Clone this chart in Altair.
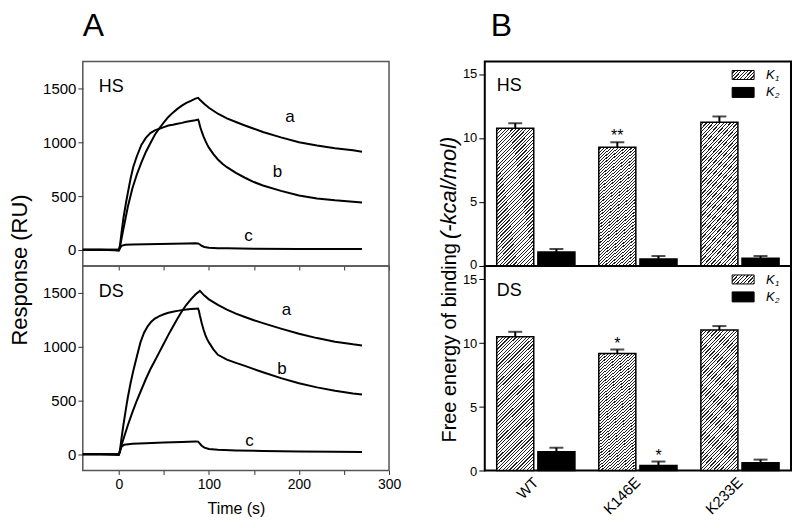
import altair as alt
import pandas as pd

FONT = "Liberation Sans"

# ---------------- Panel A: sensorgrams (time in s, response in RU) ----------------
hs_a_t = [-40, -20, -5, 0, 2, 5, 10, 15, 20, 25, 30, 35, 40, 45, 50, 55, 60, 65, 70, 75, 80, 85, 88,
          90, 95, 100, 110, 120, 130, 140, 150, 160, 180, 200, 220, 240, 260, 270]
hs_a_r = [0, 0, 0, 0, 60, 190, 400, 570, 700, 810, 910, 990, 1070, 1130, 1185, 1235, 1275, 1310, 1340, 1365, 1385, 1405, 1413,
          1395, 1355, 1320, 1265, 1222, 1188, 1155, 1125, 1095, 1045, 1000, 970, 945, 925, 912]

hs_b_t = [-40, -20, -5, 0, 1, 3, 5, 8, 10, 13, 16, 20, 25, 30, 35, 40, 45, 50, 55, 60, 65, 70, 75, 80, 85, 88,
          89, 90, 92, 94, 96, 98, 100, 105, 110, 115, 120, 130, 140, 150, 160, 180, 200, 220, 240, 260, 270]
hs_b_r = [0, 0, 0, 0, 20, 160, 290, 440, 530, 660, 770, 870, 975, 1040, 1085, 1110, 1125, 1140, 1155, 1163, 1172, 1180, 1190, 1198, 1205, 1210,
          1190, 1150, 1100, 1055, 1015, 980, 950, 890, 840, 800, 768, 715, 670, 630, 598, 548, 505, 478, 460, 447, 441]

hs_c_t = [-40, -20, -5, 0, 1, 3, 7, 15, 30, 45, 60, 75, 85, 88, 90, 92, 95, 100, 110, 120, 150, 200, 250, 270]
hs_c_r = [0, 0, -3, -8, 10, 38, 48, 50, 53, 55, 57, 59, 61, 60, 50, 38, 27, 20, 16, 14, 11, 9, 8, 7]

ds_a_t = [-40, -20, -5, 0, 5, 10, 15, 20, 25, 30, 35, 40, 45, 50, 55, 60, 65, 70, 75, 80, 85, 90,
          95, 100, 110, 120, 130, 140, 150, 160, 180, 200, 220, 240, 260, 270]
ds_a_r = [0, 0, 0, 0, 140, 270, 390, 500, 600, 700, 790, 870, 950, 1030, 1110, 1185, 1260, 1330, 1390, 1440, 1485, 1519,
          1475, 1440, 1388, 1345, 1308, 1276, 1246, 1219, 1168, 1120, 1080, 1047, 1022, 1012]

ds_b_t = [-40, -20, -5, 0, 1, 3, 5, 8, 10, 13, 16, 20, 24, 28, 32, 36, 40, 45, 50, 55, 60, 65, 70, 75, 80, 85, 88,
          89, 90, 92, 94, 96, 98, 100, 105, 110, 120, 130, 140, 150, 160, 180, 200, 220, 240, 260, 270]
ds_b_r = [0, 0, 0, 0, 20, 150, 270, 430, 530, 660, 775, 910, 1040, 1130, 1190, 1232, 1262, 1285, 1302, 1315, 1325, 1333, 1340, 1346, 1350, 1353, 1355,
          1330, 1290, 1220, 1160, 1110, 1070, 1040, 975, 925, 880, 850, 822, 792, 763, 708, 660, 622, 590, 566, 556]

ds_c_t = [-40, -20, -5, 0, 1, 3, 6, 15, 30, 50, 70, 85, 88, 90, 92, 95, 100, 110, 130, 160, 200, 240, 270]
ds_c_r = [0, 0, -3, -5, 20, 70, 90, 98, 104, 110, 115, 120, 118, 100, 80, 62, 50, 42, 36, 31, 27, 24, 22]

curve_names = ["a", "b", "c"]
hs_lab_t = [190, 176, 144]
hs_lab_r = [1231, 722, 132]
ds_lab_t = [186, 181, 145]
ds_lab_r = [1345, 790, 122]

# ---------------- Panel B: free energy of binding (-kcal/mol) ----------------
mutants = ["WT", "K146E", "K233E"]
series = ["K1", "K2"]
hs_k1 = [10.78, 9.30, 11.25]
hs_k1_err = [0.39, 0.39, 0.45]
hs_k2 = [1.09, 0.55, 0.60]
hs_k2_err = [0.24, 0.23, 0.18]
ds_k1 = [10.47, 9.15, 11.00]
ds_k1_err = [0.38, 0.31, 0.30]
ds_k2 = [1.47, 0.39, 0.60]
ds_k2_err = [0.31, 0.31, 0.25]
hs_sig_mutant = ["K146E"]
hs_sig_series = ["K1"]
hs_sig_mark = ["**"]
ds_sig_mutant = ["K146E", "K146E"]
ds_sig_series = ["K1", "K2"]
ds_sig_mark = ["*", "*"]


def curve_frame(panel, curve, ts, rs):
    return pd.DataFrame({"panel": panel, "curve": curve, "t": ts, "R": rs})


sens_df = pd.concat([
    curve_frame("HS", "a", hs_a_t, hs_a_r),
    curve_frame("HS", "b", hs_b_t, hs_b_r),
    curve_frame("HS", "c", hs_c_t, hs_c_r),
    curve_frame("DS", "a", ds_a_t, ds_a_r),
    curve_frame("DS", "b", ds_b_t, ds_b_r),
    curve_frame("DS", "c", ds_c_t, ds_c_r),
], ignore_index=True)


def hatch(n, x2, y2, frac=0.35, light="white", dark="#222222"):
    stops = []
    for i in range(n):
        a = round(i / n, 5)
        b = round((i + 1 - frac) / n, 5)
        c = round((i + 1) / n, 5)
        stops += [alt.GradientStop(color=light, offset=a), alt.GradientStop(color=light, offset=b),
                  alt.GradientStop(color=dark, offset=b), alt.GradientStop(color=dark, offset=c)]
    return alt.LinearGradient(gradient="linear", stops=stops, x1=0, y1=0, x2=x2, y2=y2)


HATCH_BAR = hatch(50, 0.325, 1.185)
HATCH_LEG = hatch(9, 1.207, 0.472)

X_SENS = alt.Scale(domain=[-40, 300], nice=False, zero=False)
Y_SENS = alt.Scale(domain=[-150, 1750], nice=False, zero=False)
PW = 307
PH = 205
LEFT_FRAME = alt.ViewBackground(stroke="#555555", strokeWidth=1.5)
RIGHT_FRAME = alt.ViewBackground(stroke="black", strokeWidth=2)


def one():
    return pd.DataFrame({"k": [0]})


def sens_panel(panel, labt, labr, bottom, top):
    d = sens_df[sens_df.panel == panel]
    xaxis = alt.Axis(values=[0, 50, 100, 150, 200, 250, 300],
                     labelExpr="datum.value % 100 === 0 ? datum.label : ''",
                     labels=bottom, labelFlush=False, title="Time (s)" if bottom else None,
                     tickSize=4, labelPadding=3, labelFontSize=14, titleFontSize=16, titlePadding=9,
                     domain=False, grid=False, tickColor="#333333")
    yaxis = alt.Axis(values=[0, 500, 1000, 1500], format="d", title=None, labelFontSize=15, tickSize=5,
                     labelPadding=2, domain=False, grid=False, labelFlush=False, tickColor="#333333")
    x = alt.X("t:Q", scale=X_SENS, axis=xaxis)
    y = alt.Y("R:Q", scale=Y_SENS, axis=yaxis)
    lines = alt.Chart(d).mark_line(color="black", strokeWidth=2).encode(x=x, y=y, detail="curve:N")
    labs = alt.Chart(pd.DataFrame({"txt": curve_names, "t": labt, "R": labr})).mark_text(
        fontSize=17, baseline="middle", color="black").encode(x=x, y=y, text="txt:N")
    tag = alt.Chart(one()).mark_text(text=panel, fontSize=18, align="left", baseline="alphabetic",
                                     color="black").encode(x=alt.value(16), y=alt.value(31))
    layers = [lines, labs, tag]
    if top:
        layers.append(alt.Chart(one()).mark_text(text="A", fontSize=32, align="left", baseline="alphabetic",
                                                 color="black").encode(x=alt.value(0), y=alt.value(-26)))
    if bottom:
        layers.append(alt.Chart(one()).mark_text(text="Response (RU)", fontSize=22, angle=270, align="center",
                                                 baseline="middle", color="black").encode(
            x=alt.value(-63), y=alt.value(4)))
    return alt.layer(*layers).properties(width=PW, height=PH, view=LEFT_FRAME)


def bar_panel(panel, k1, k1e, k2, k2e, sig_m, sig_s, sig_t, bottom, top):
    df = pd.DataFrame({
        "mutant": mutants * 2,
        "series": [series[0]] * 3 + [series[1]] * 3,
        "value": k1 + k2,
        "err": k1e + k2e,
    })
    df["top"] = df["value"] + df["err"]
    sig = pd.DataFrame({"mutant": sig_m, "series": sig_s, "mark": sig_t})
    sig = sig.merge(df, on=["mutant", "series"])

    xaxis = alt.Axis(labels=bottom, ticks=False, domain=False, title=None, labelAngle=315,
                     labelAlign="right", labelBaseline="middle", labelFontSize=15, labelPadding=9, grid=False)
    x = alt.X("mutant:N", sort=mutants, scale=alt.Scale(paddingInner=0, paddingOuter=0), axis=xaxis)
    xo = alt.XOffset("series:N", scale=alt.Scale(domain=series, paddingInner=0.1, paddingOuter=0.29))
    yscale = alt.Scale(domain=[0, 16], nice=False)
    yaxis = alt.Axis(values=[0, 5, 10, 15], title=None, labelFontSize=13, tickSize=6, labelPadding=2,
                     labelOffset=1 if bottom else -1,
                     domain=False, grid=False, tickColor="black")
    yv = alt.Y("value:Q", scale=yscale, axis=yaxis, stack=None)
    yt = alt.Y("top:Q", scale=yscale, axis=yaxis)

    base = alt.Chart(df)
    k1bars = base.transform_filter("datum.series === 'K1'").mark_bar(
        fill=HATCH_BAR, stroke="black", strokeWidth=1.5).encode(x=x, xOffset=xo, y=yv)
    k2bars = base.transform_filter("datum.series === 'K2'").mark_bar(
        fill="black", stroke="black", strokeWidth=1.5).encode(x=x, xOffset=xo, y=yv)
    errs = base.mark_rule(color="black", strokeWidth=2).encode(x=x, xOffset=xo, y=yv, y2="top:Q")
    caps = base.mark_tick(color="black", thickness=2, size=14, orient="horizontal").encode(
        x=x, xOffset=xo, y=yt)
    stars = alt.Chart(sig).mark_text(fontSize=16, baseline="alphabetic", dy=-1, color="black").encode(
        x=x, xOffset=xo, y=yt, text="mark:N")

    tag = alt.Chart(one()).mark_text(text=panel, fontSize=18, align="left", baseline="alphabetic",
                                     color="black").encode(x=alt.value(12), y=alt.value(30))
    leg1 = alt.Chart(one()).mark_rect(fill=HATCH_LEG, stroke="black", strokeWidth=1).encode(
        x=alt.value(248), x2=alt.value(270), y=alt.value(9), y2=alt.value(18))
    leg2 = alt.Chart(one()).mark_rect(fill="black", stroke="black", strokeWidth=1).encode(
        x=alt.value(248), x2=alt.value(270), y=alt.value(26), y2=alt.value(36))
    legk1 = alt.Chart(one()).mark_text(text="K", fontSize=13, fontStyle="italic", align="left",
                                       baseline="alphabetic", color="black").encode(x=alt.value(282), y=alt.value(18))
    legs1 = alt.Chart(one()).mark_text(text="1", fontSize=8, fontStyle="italic", align="left",
                                       baseline="alphabetic", color="black").encode(x=alt.value(291), y=alt.value(20))
    legk2 = alt.Chart(one()).mark_text(text="K", fontSize=13, fontStyle="italic", align="left",
                                       baseline="alphabetic", color="black").encode(x=alt.value(282), y=alt.value(35))
    legs2 = alt.Chart(one()).mark_text(text="2", fontSize=8, fontStyle="italic", align="left",
                                       baseline="alphabetic", color="black").encode(x=alt.value(291), y=alt.value(37))
    layers = [k1bars, k2bars, errs, caps, stars, tag, leg1, leg2, legk1, legs1, legk2, legs2]
    if top:
        layers.append(alt.Chart(one()).mark_text(text="B", fontSize=32, align="left", baseline="alphabetic",
                                                 color="black").encode(x=alt.value(6), y=alt.value(-26)))
    if bottom:
        layers.append(alt.Chart(one()).mark_text(text="Free energy of binding", fontSize=20, angle=270,
                                                 align="left", baseline="alphabetic", color="black").encode(
            x=alt.value(-29), y=alt.value(177)))
        layers.append(alt.Chart(one()).mark_text(text="(-kcal/mol)", fontSize=22, angle=270, fontStyle="italic",
                                                 align="left", baseline="alphabetic", color="black").encode(
            x=alt.value(-29), y=alt.value(-27)))
    return alt.layer(*layers).properties(width=PW, height=PH, view=RIGHT_FRAME)


chart = alt.concat(
    sens_panel("HS", hs_lab_t, hs_lab_r, bottom=False, top=True),
    bar_panel("HS", hs_k1, hs_k1_err, hs_k2, hs_k2_err, hs_sig_mutant, hs_sig_series, hs_sig_mark,
              bottom=False, top=True),
    sens_panel("DS", ds_lab_t, ds_lab_r, bottom=True, top=False),
    bar_panel("DS", ds_k1, ds_k1_err, ds_k2, ds_k2_err, ds_sig_mutant, ds_sig_series, ds_sig_mark,
              bottom=True, top=False),
    columns=2, spacing={"row": 0, "column": 96}, bounds="flush",
).resolve_scale(x="independent", y="independent", xOffset="independent").properties(
    padding={"left": 0, "top": 0, "right": 0, "bottom": 0}
).configure(font=FONT).configure_axis(
    labelFont=FONT, titleFont=FONT, labelColor="black", titleColor="black", titleFontWeight="normal"
).configure_text(font=FONT)

chart.save("out.html", embed_options={"renderer": "svg", "actions": False})
